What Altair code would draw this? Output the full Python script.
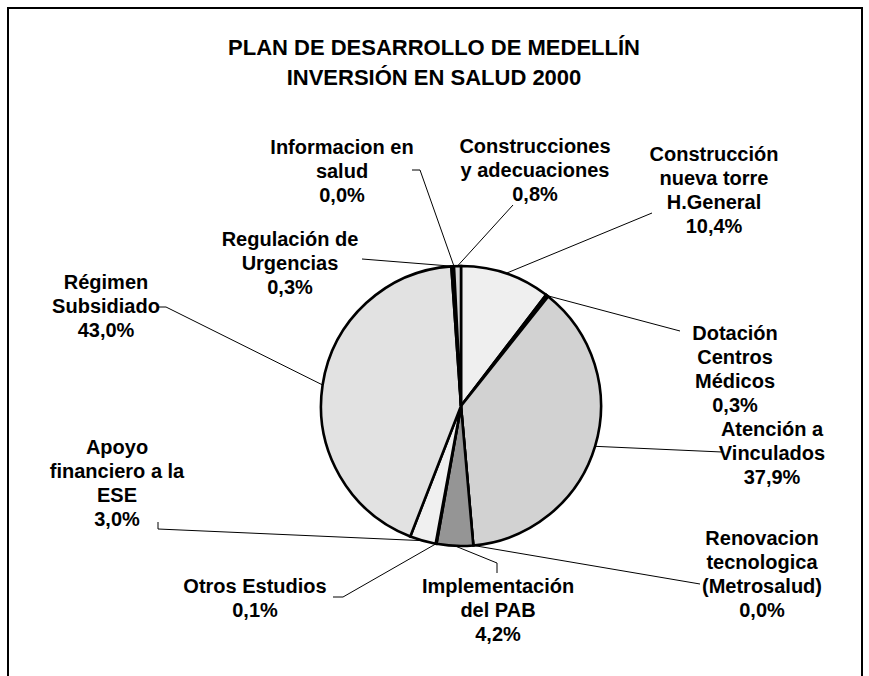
import altair as alt
import pandas as pd
import numpy as np

# ---------------- data ----------------
categories = [
    "Construcción nueva torre H.General",
    "Dotación Centros Médicos",
    "Atención a Vinculados",
    "Renovacion tecnologica (Metrosalud)",
    "Implementación del PAB",
    "Otros Estudios",
    "Apoyo financiero a la ESE",
    "Régimen Subsidiado",
    "Regulación de Urgencias",
    "Informacion en salud",
    "Construcciones y adecuaciones",
]
values = [10.4, 0.3, 37.9, 0.0, 4.2, 0.1, 3.0, 43.0, 0.3, 0.0, 0.8]
label_lines = [
    ["Construcción", "nueva torre", "H.General"],
    ["Dotación", "Centros", "Médicos"],
    ["Atención a", "Vinculados"],
    ["Renovacion", "tecnologica", "(Metrosalud)"],
    ["Implementación", "del PAB"],
    ["Otros Estudios"],
    ["Apoyo", "financiero a la", "ESE"],
    ["Régimen", "Subsidiado"],
    ["Regulación de", "Urgencias"],
    ["Informacion en", "salud"],
    ["Construcciones", "y  adecuaciones"],
]
title_lines = ["PLAN DE DESARROLLO DE MEDELLÍN", "INVERSIÓN EN SALUD 2000"]

# ---------------- layout / style ----------------
W, H = 869, 676
CX, CY, R = 461, 406, 140
fills = ["#efefef", "#ffffff", "#d2d2d2", "#ffffff", "#959595", "#ffffff",
         "#f0f0f0", "#e2e2e2", "#ffffff", "#ffffff", "#d6d6d6"]
# (center x, y of first line)
label_pos = [(714, 155), (735, 334), (772, 430), (762, 539), (498, 587),
             (255, 587), (117, 448), (106, 283), (290, 240), (342, 148), (535, 147)]
leader_anchor = [
    [(652, 213)], [(680, 331)], [(722, 452)], [(700, 584)],
    [(497, 573), (497, 563)], [(333, 597), (343, 597)],
    [(158, 522), (158, 529)], [(158, 307), (166, 307)],
    [(362, 259)], [(412, 170), (420, 170)], [(513, 205)],
]
FONT = "Liberation Sans"
LINE_H = 24

xs = alt.Scale(domain=[0, W], range=[0, W])
ys = alt.Scale(domain=[0, H], range=[0, H])

# ---------------- pie ----------------
pie_df = pd.DataFrame({"cat": categories, "value": values, "idx": range(len(values))})
pie = alt.Chart(pie_df).mark_arc(radius=R, stroke="black", strokeWidth=2.6).encode(
    theta=alt.Theta("value:Q", stack=True),
    order=alt.Order("idx:Q"),
    color=alt.Color("cat:N", scale=alt.Scale(domain=categories, range=fills), legend=None),
    x=alt.value(CX),
    y=alt.value(CY),
)

# ---------------- leader lines ----------------
vals = np.array(values, dtype=float)
start = np.cumsum(vals) - vals
mid = (start + vals / 2) / vals.sum() * 2 * np.pi
px = CX + R * np.sin(mid)
py = CY - R * np.cos(mid)
rows = []
for i, anchors in enumerate(leader_anchor):
    k = 0
    for (ax, ay) in anchors:
        rows.append({"id": i, "k": k, "x": ax, "y": ay}); k += 1
    rows.append({"id": i, "k": k, "x": float(px[i]), "y": float(py[i])})
lead_df = pd.DataFrame(rows)
leaders = alt.Chart(lead_df).mark_line(color="black", strokeWidth=1).encode(
    x=alt.X("x:Q", scale=xs, axis=None),
    y=alt.Y("y:Q", scale=ys, axis=None),
    detail="id:N",
    order="k:Q",
)

# ---------------- labels ----------------
lab_rows = []
for i, lines in enumerate(label_lines):
    pct = f"{values[i]:.1f}".replace(".", ",") + "%"
    lab_rows.append({"text": "\n".join(lines + [pct]), "x": label_pos[i][0], "y": label_pos[i][1]})
lab_df = pd.DataFrame(lab_rows)
labels = alt.Chart(lab_df).mark_text(
    font=FONT, fontSize=20, fontWeight="bold", color="black",
    align="center", baseline="middle", lineBreak="\n", lineHeight=LINE_H,
).encode(
    x=alt.X("x:Q", scale=xs, axis=None),
    y=alt.Y("y:Q", scale=ys, axis=None),
    text="text:N",
)

title_df = pd.DataFrame({"text": ["\n".join(title_lines)], "x": [434], "y": [48]})
title = alt.Chart(title_df).mark_text(
    font=FONT, fontSize=22, fontWeight="bold", color="black",
    align="center", baseline="middle", lineBreak="\n", lineHeight=30,
).encode(
    x=alt.X("x:Q", scale=xs, axis=None),
    y=alt.Y("y:Q", scale=ys, axis=None),
    text="text:N",
)

frame = alt.Chart(pd.DataFrame({"a": [0]})).mark_rect(
    fillOpacity=0, stroke="black", strokeWidth=2
).encode(x=alt.value(8), x2=alt.value(862), y=alt.value(8), y2=alt.value(720))

chart = alt.layer(frame, pie, leaders, labels, title).properties(
    width=W, height=H, padding=0, autosize=alt.AutoSizeParams(type="none"),
    background="white",
).configure_view(stroke=None)

chart.save("out.html", embed_options={"renderer": "svg", "actions": False})
